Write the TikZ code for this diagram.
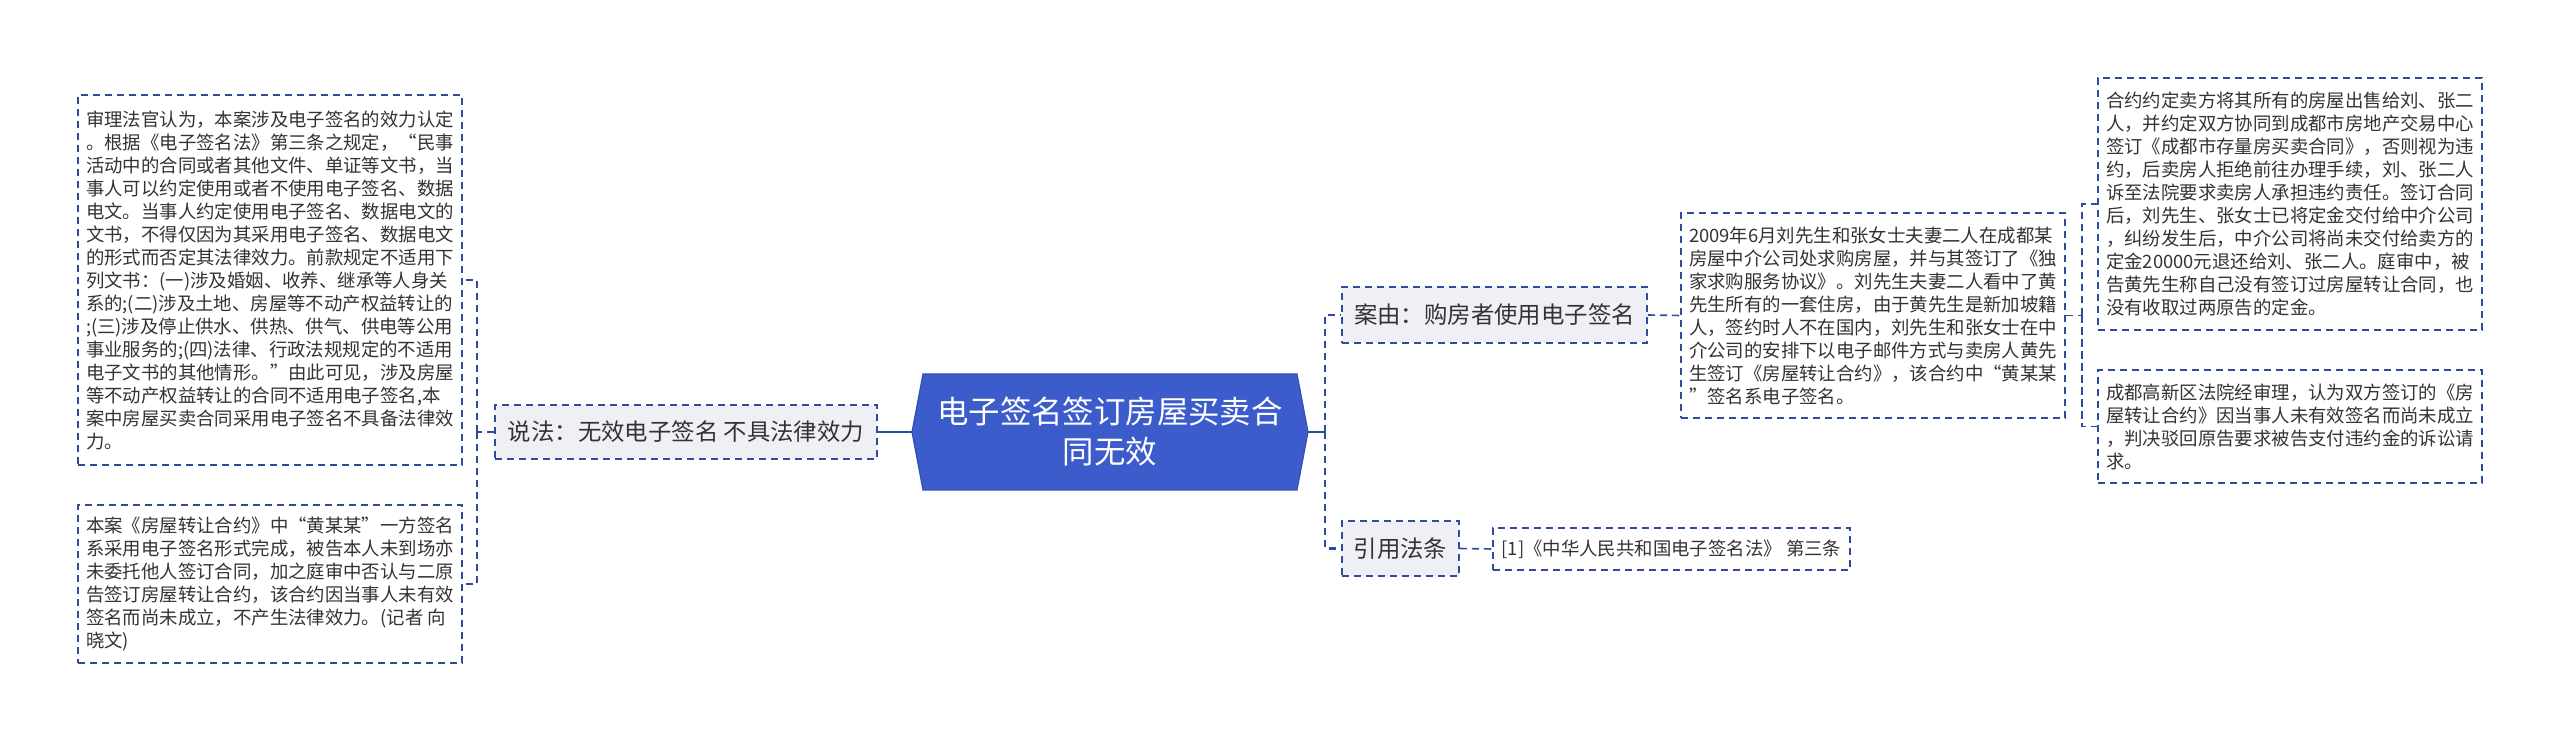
\documentclass[tikz,border=0pt]{standalone}
\usepackage{fontspec}
\setmainfont{Noto Sans CJK SC}
\definecolor{bd}{HTML}{2F4C9C}
\definecolor{gf}{HTML}{EEF0F5}
\definecolor{rootf}{HTML}{3C5CCB}
\definecolor{rootd}{HTML}{3350B8}
\definecolor{tx}{HTML}{333333}
\begin{document}
\begin{tikzpicture}[x=0.5pt,y=-0.5pt,
  box/.style={draw=bd, line width=0.8pt, dash pattern=on 3.6pt off 2.4pt, text=tx, inner sep=0pt, align=left, font=\fontsize{9.2}{11.5}\selectfont},
  topic/.style={box, fill=gf, align=center, font=\fontsize{11.7}{14}\selectfont},
  conn/.style={draw=bd, line width=0.8pt, dash pattern=on 3.6pt off 2.4pt},
  rootconn/.style={draw=bd, line width=1.4pt}]
\fill[white] (0,0) rectangle (2560,742);
\useasboundingbox (0,0) rectangle (2560,742);

% root hexagon
\coordinate (rootL) at (912,432);
\coordinate (rootR) at (1308,432);
\coordinate (rNW) at (923,374);
\coordinate (rNE) at (1297,374);
\coordinate (rSE) at (1297,490);
\coordinate (rSW) at (923,490);
\filldraw[fill=rootf, draw=rootd, line width=0.6pt] (rNW) -- (rNE) -- (rootR) -- (rSE) -- (rSW) -- (rootL) -- cycle;
\node[minimum width=187pt, minimum height=58pt, inner sep=0pt, text=white, align=center, font=\fontsize{15.7}{20}\selectfont] (root) at (1110,432) {电子签名签订房屋买卖合\\同无效};

% left branch
\node[topic, minimum width=191pt, minimum height=27pt] (shuofa) at (686,432) {说法：无效电子签名 不具法律效力};
\node[box, minimum width=192pt, minimum height=185pt] (left1) at (270,280) {审理法官认为，本案涉及电子签名的效力认定\\。根据《电子签名法》第三条之规定，“民事\\活动中的合同或者其他文件、单证等文书，当\\事人可以约定使用或者不使用电子签名、数据\\电文。当事人约定使用电子签名、数据电文的\\文书，不得仅因为其采用电子签名、数据电文\\的形式而否定其法律效力。前款规定不适用下\\列文书：(一)涉及婚姻、收养、继承等人身关\\系的;(二)涉及土地、房屋等不动产权益转让的\\;(三)涉及停止供水、供热、供气、供电等公用\\事业服务的;(四)法律、行政法规规定的不适用\\电子文书的其他情形。”由此可见，涉及房屋\\等不动产权益转让的合同不适用电子签名,本\\案中房屋买卖合同采用电子签名不具备法律效\\力。};
\node[box, minimum width=192pt, minimum height=79pt] (left2) at (270,584) {本案《房屋转让合约》中“黄某某”一方签名\\系采用电子签名形式完成，被告本人未到场亦\\未委托他人签订合同，加之庭审中否认与二原\\告签订房屋转让合约，该合约因当事人未有效\\签名而尚未成立，不产生法律效力。(记者 向\\晓文)};

% right branches
\node[topic, minimum width=152.5pt, minimum height=28pt] (anyou) at (1494.5,315) {案由：购房者使用电子签名};
\node[topic, minimum width=58.5pt, minimum height=27.5pt] (yinyong) at (1400.5,548.5) {引用法条};
\node[box, minimum width=192pt, minimum height=102.5pt] (casebox) at (1873,315.5) {2009年6月刘先生和张女士夫妻二人在成都某\\房屋中介公司处求购房屋，并与其签订了《独\\家求购服务协议》。刘先生夫妻二人看中了黄\\先生所有的一套住房，由于黄先生是新加坡籍\\人，签约时人不在国内，刘先生和张女士在中\\介公司的安排下以电子邮件方式与卖房人黄先\\生签订《房屋转让合约》，该合约中“黄某某\\”签名系电子签名。};
\node[box, minimum width=192pt, minimum height=126pt] (r1) at (2290,204) {合约约定卖方将其所有的房屋出售给刘、张二\\人，并约定双方协同到成都市房地产交易中心\\签订《成都市存量房买卖合同》，否则视为违\\约，后卖房人拒绝前往办理手续，刘、张二人\\诉至法院要求卖房人承担违约责任。签订合同\\后，刘先生、张女士已将定金交付给中介公司\\，纠纷发生后，中介公司将尚未交付给卖方的\\定金20000元退还给刘、张二人。庭审中，被\\告黄先生称自己没有签订过房屋转让合同，也\\没有收取过两原告的定金。};
\node[box, minimum width=192pt, minimum height=56.5pt] (r2) at (2290,426.5) {成都高新区法院经审理，认为双方签订的《房\\屋转让合约》因当事人未有效签名而尚未成立\\，判决驳回原告要求被告支付违约金的诉讼请\\求。};
\node[box, minimum width=178.5pt, minimum height=21pt] (lawbox) at (1671.5,549) {[1]《中华人民共和国电子签名法》 第三条};

% connectors
\coordinate (lj) at (477,432);
\draw[rootconn] (rootL) -- (shuofa.east);
\draw[conn] (shuofa.west) -- (lj);
\draw[conn] (lj) |- (left1.east);
\draw[conn] (lj) |- (left2.east);

\coordinate (rj) at (1325,432);
\draw[rootconn] (rootR) -- (rj);
\draw[conn, line width=1.3pt] (rj) |- (anyou.west);
\draw[conn, line width=1.3pt] (rj) |- (yinyong.west);
\draw[conn] (anyou.east) -- (casebox.west);
\draw[conn] (yinyong.east) -- (lawbox.west);

\coordinate (cj) at (2082,315.5);
\draw[conn] (casebox.east) -- (cj);
\draw[conn] (cj) |- (r1.west);
\draw[conn] (cj) |- (r2.west);
\end{tikzpicture}
\end{document}
